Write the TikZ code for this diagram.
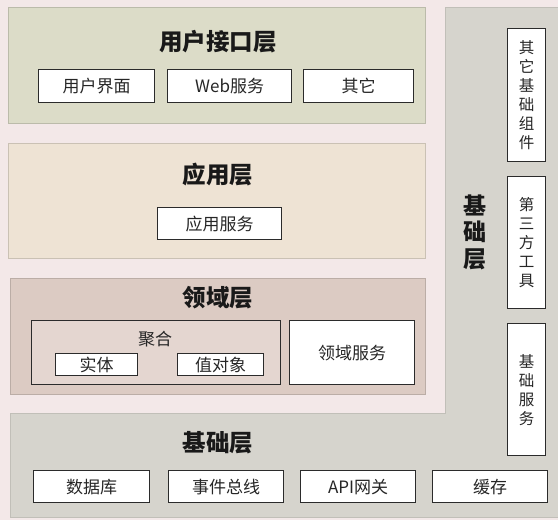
\documentclass[tikz,border=0pt]{standalone}
\usepackage{fontspec}
\setmainfont{Noto Sans CJK SC}
\definecolor{bgc}{HTML}{F3E8E8}
\definecolor{uic}{HTML}{DCDCC8}
\definecolor{appc}{HTML}{EEE3D4}
\definecolor{domc}{HTML}{DCCBC3}
\definecolor{aggc}{HTML}{E4D6D0}
\definecolor{grayc}{HTML}{D6D4CD}
\definecolor{edgec}{HTML}{2B2B2B}
\tikzset{
  layer/.style={draw=#1!85!black, line width=0.6pt, fill=#1, inner sep=0pt, anchor=north west},
  wbox/.style={draw=edgec, line width=1.2pt, fill=white, inner sep=0pt, anchor=north west, font=\fontsize{17}{19}\selectfont, text=black!85},
  vbox/.style={wbox, font=\fontsize{15.5}{19}\selectfont, align=center},
  title/.style={font=\fontsize{23.5}{27}\selectfont\bfseries, text=black!90},
}
\begin{document}
\begin{tikzpicture}[x=1pt,y=-1pt]
\useasboundingbox (0,0) rectangle (558,520);
\fill[bgc] (0,0) rectangle (558,520);
% grey L-shaped infrastructure panel
\filldraw[fill=grayc, draw=grayc!90!black, line width=0.6pt]
  (445,7) -- (558,7) -- (558,517) -- (10,517) -- (10,413) -- (445,413) -- cycle;
% layers
\node[layer=uic, minimum width=417pt, minimum height=116pt] (ui) at (8,7) {};
\node[layer=appc, minimum width=417pt, minimum height=115pt] (app) at (8,143) {};
\node[layer=domc, minimum width=415pt, minimum height=116pt] (dom) at (10,278) {};
% user interface layer
\node[title] (uit) at (218,42) {用户接口层};
\node[wbox, minimum width=116pt, minimum height=33pt] (ui1) at (38,69) {用户界面};
\node[wbox, minimum width=124pt, minimum height=33pt] (ui2) at (167,69) {Web服务};
\node[wbox, minimum width=110pt, minimum height=33pt] (ui3) at (303,69) {其它};
% application layer
\node[title] (appt) at (218,175) {应用层};
\node[wbox, minimum width=124pt, minimum height=32pt] (app1) at (157,207) {应用服务};
% domain layer
\node[title] (domt) at (218,298) {领域层};
\node[wbox, fill=aggc, minimum width=249pt, minimum height=64pt] (agg) at (31,320) {};
\node[font=\fontsize{17}{19}\selectfont, text=black!85] (aggt) at (155,339) {聚合};
\node[wbox, minimum width=82pt, minimum height=22pt] (ent) at (55,353) {实体};
\node[wbox, minimum width=86pt, minimum height=22pt] (vo) at (177,353) {值对象};
\node[wbox, minimum width=125pt, minimum height=64pt] (dsvc) at (289,320) {领域服务};
% infrastructure layer, right column
\node[title, align=center, font=\fontsize{23}{26.5}\selectfont\bfseries] (infv) at (475,232) {基\\础\\层};
\node[vbox, minimum width=38pt, minimum height=133pt] (r1) at (507,28) {其\\它\\基\\础\\组\\件};
\node[vbox, minimum width=38pt, minimum height=132pt] (r2) at (507,176) {第\\三\\方\\工\\具};
\node[vbox, minimum width=38pt, minimum height=132pt] (r3) at (507,323) {基\\础\\服\\务};
% infrastructure layer, bottom row
\node[title] (inft) at (218,443) {基础层};
\node[wbox, minimum width=116pt, minimum height=32pt] (b1) at (33,470) {数据库};
\node[wbox, minimum width=115pt, minimum height=32pt] (b2) at (168,470) {事件总线};
\node[wbox, minimum width=115pt, minimum height=32pt] (b3) at (300,470) {API网关};
\node[wbox, minimum width=115pt, minimum height=32pt] (b4) at (432,470) {缓存};
\end{tikzpicture}
\end{document}
